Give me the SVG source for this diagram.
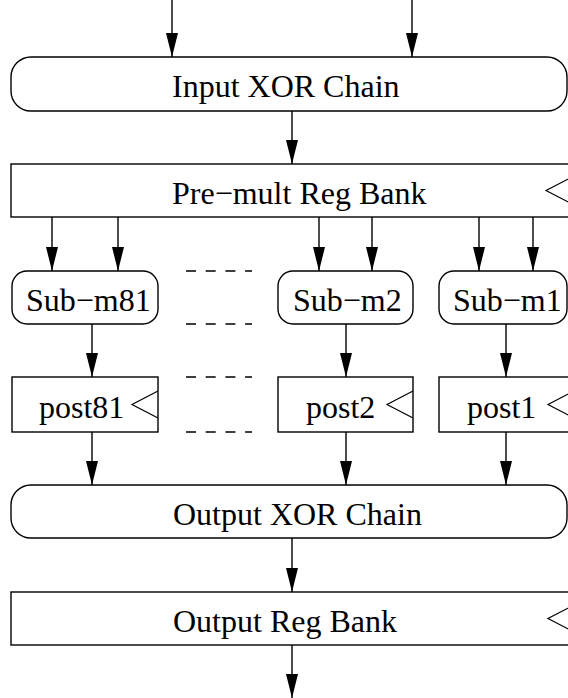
<svg xmlns="http://www.w3.org/2000/svg" width="568" height="698" viewBox="0 0 568 698">
  <style>
    .box { fill: #ffffff; stroke: #000000; stroke-width: 1.4; }
    .clk { fill: none; stroke: #000000; stroke-width: 1.2; }
    .wire { fill: none; stroke: #000000; stroke-width: 1.4; }
    .dash { fill: none; stroke: #000000; stroke-width: 1.5; stroke-dasharray: 10 9.7; }
    .lbl { font-family: "Liberation Serif", "Times New Roman", serif; font-size: 32px; fill: #000000; }
  </style>
  <defs>
    <marker id="arrow" viewBox="-25 -7 26 14" refX="0" refY="0" markerWidth="26" markerHeight="14" markerUnits="userSpaceOnUse" orient="auto">
      <path d="M0,0 L-24,-6 L-24,6 Z" fill="#000000"/>
    </marker>
  </defs>
  <rect width="568" height="698" fill="#ffffff"/>

  <!-- connectors -->
  <g id="connectors">
    <line class="wire" x1="172" y1="0" x2="172" y2="57" marker-end="url(#arrow)"/>
    <line class="wire" x1="412" y1="0" x2="412" y2="57" marker-end="url(#arrow)"/>
    <line class="wire" x1="292" y1="111" x2="292" y2="164" marker-end="url(#arrow)"/>
    <line class="wire" x1="52" y1="217" x2="52" y2="271" marker-end="url(#arrow)"/>
    <line class="wire" x1="118" y1="217" x2="118" y2="271" marker-end="url(#arrow)"/>
    <line class="wire" x1="319" y1="217" x2="319" y2="271" marker-end="url(#arrow)"/>
    <line class="wire" x1="372" y1="217" x2="372" y2="271" marker-end="url(#arrow)"/>
    <line class="wire" x1="479" y1="217" x2="479" y2="271" marker-end="url(#arrow)"/>
    <line class="wire" x1="533" y1="217" x2="533" y2="271" marker-end="url(#arrow)"/>
    <line class="wire" x1="92" y1="324" x2="92" y2="377" marker-end="url(#arrow)"/>
    <line class="wire" x1="346" y1="324" x2="346" y2="377" marker-end="url(#arrow)"/>
    <line class="wire" x1="506" y1="324" x2="506" y2="377" marker-end="url(#arrow)"/>
    <line class="wire" x1="92" y1="432" x2="92" y2="485" marker-end="url(#arrow)"/>
    <line class="wire" x1="346" y1="432" x2="346" y2="485" marker-end="url(#arrow)"/>
    <line class="wire" x1="506" y1="432" x2="506" y2="485" marker-end="url(#arrow)"/>
    <line class="wire" x1="292" y1="538" x2="292" y2="592" marker-end="url(#arrow)"/>
    <line class="wire" x1="292" y1="645" x2="292" y2="698" marker-end="url(#arrow)"/>
    <!-- elided middle stages -->
    <line class="dash" x1="186" y1="271" x2="252" y2="271"/>
    <line class="dash" x1="186" y1="324" x2="252" y2="324"/>
    <line class="dash" x1="186" y1="377" x2="252" y2="377"/>
    <line class="dash" x1="186" y1="432" x2="252" y2="432"/>
  </g>

  <g id="input-xor">
    <rect class="box" x="11" y="57" width="556" height="54" rx="20" ry="20"/>
    <text class="lbl" x="172" y="97">Input XOR Chain</text>
  </g>

  <g id="premult-reg">
    <rect class="box" x="11" y="164" width="561" height="53"/>
    <text class="lbl" x="172" y="203.5">Pre−mult Reg Bank</text>
    <polyline class="clk" points="572,177 546,190.5 572,204"/>
  </g>

  <g id="sub-m81">
    <rect class="box" x="12" y="271" width="146" height="53" rx="15" ry="15"/>
    <text class="lbl" x="26" y="311">Sub−m81</text>
  </g>
  <g id="sub-m2">
    <rect class="box" x="278" y="271" width="135" height="53" rx="15" ry="15"/>
    <text class="lbl" x="293" y="311">Sub−m2</text>
  </g>
  <g id="sub-m1">
    <rect class="box" x="439" y="271" width="128" height="53" rx="15" ry="15"/>
    <text class="lbl" x="453" y="311">Sub−m1</text>
  </g>

  <g id="post81">
    <rect class="box" x="12" y="377" width="146" height="55"/>
    <text class="lbl" x="39" y="418">post81</text>
    <polyline class="clk" points="158,391 132,404.5 158,418"/>
  </g>
  <g id="post2">
    <rect class="box" x="278" y="377" width="135" height="55"/>
    <text class="lbl" x="306" y="418">post2</text>
    <polyline class="clk" points="413,391 387,404.5 413,418"/>
  </g>
  <g id="post1">
    <rect class="box" x="439" y="377" width="135" height="55"/>
    <text class="lbl" x="467" y="418">post1</text>
    <polyline class="clk" points="574,391 548,404.5 574,418"/>
  </g>

  <g id="output-xor">
    <rect class="box" x="11" y="485" width="556" height="53" rx="20" ry="20"/>
    <text class="lbl" x="173" y="524.5">Output XOR Chain</text>
  </g>

  <g id="output-reg">
    <rect class="box" x="11" y="592" width="563" height="53"/>
    <text class="lbl" x="173" y="631.5">Output Reg Bank</text>
    <polyline class="clk" points="574,605 548,618.5 574,632"/>
  </g>
</svg>
